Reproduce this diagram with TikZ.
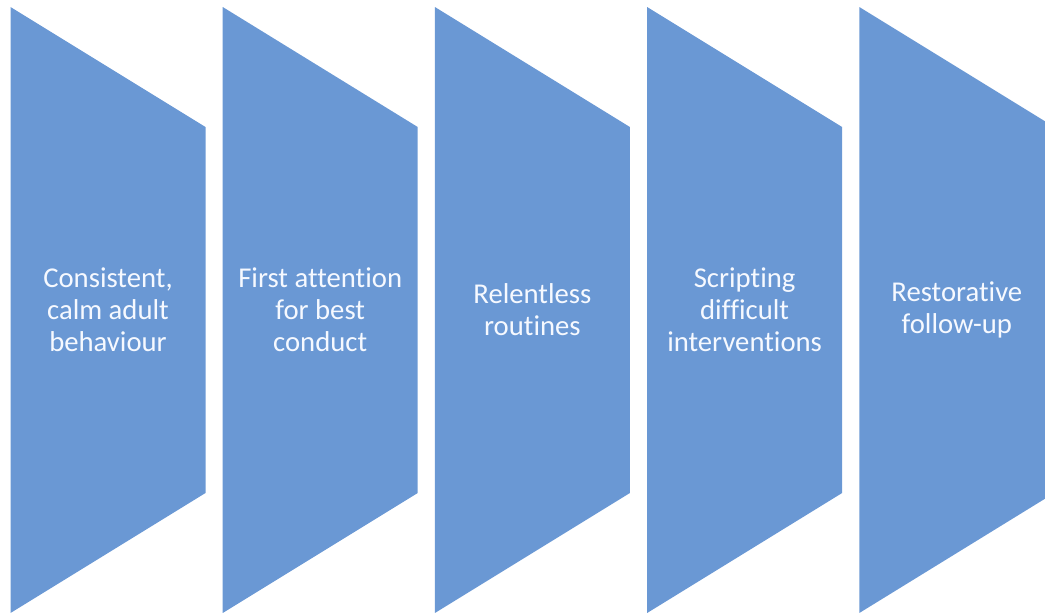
\documentclass[tikz,border=0pt]{standalone}
\usepackage{fontspec}
\setmainfont{Carlito}[Ligatures=NoCommon]
\usepackage{tikz}
\definecolor{chevronblue}{RGB}{106,152,212}
\definecolor{labelwhite}{RGB}{246,249,255}

\begin{document}
\begin{tikzpicture}[x=0.03cm,y=-0.03cm]
\useasboundingbox (0,0) rectangle (1045,612);
\clip (0,0) rectangle (1045,612);
% Draw the five steps with their labels
\foreach \i/\txt in {0/{Consistent,\\calm adult\\behaviour},
                     1/{First attention\\for best\\conduct},
                     2/{Relentless\\routines},
                     3/{Scripting\\difficult\\interventions},
                     4/{Restorative\\follow-up}} {
  \pgfmathsetmacro{\xl}{10.5+212.2*\i}
  \fill[chevronblue] (\xl,7) -- (\xl+195,127) -- (\xl+195,493) -- (\xl,613) -- cycle;
  \node[align=center,text=labelwhite,font=\fontsize{24.5}{27.2}\selectfont] (lbl\i) at (\xl+97.5,310) {\txt};
}
\end{tikzpicture}
\end{document}
